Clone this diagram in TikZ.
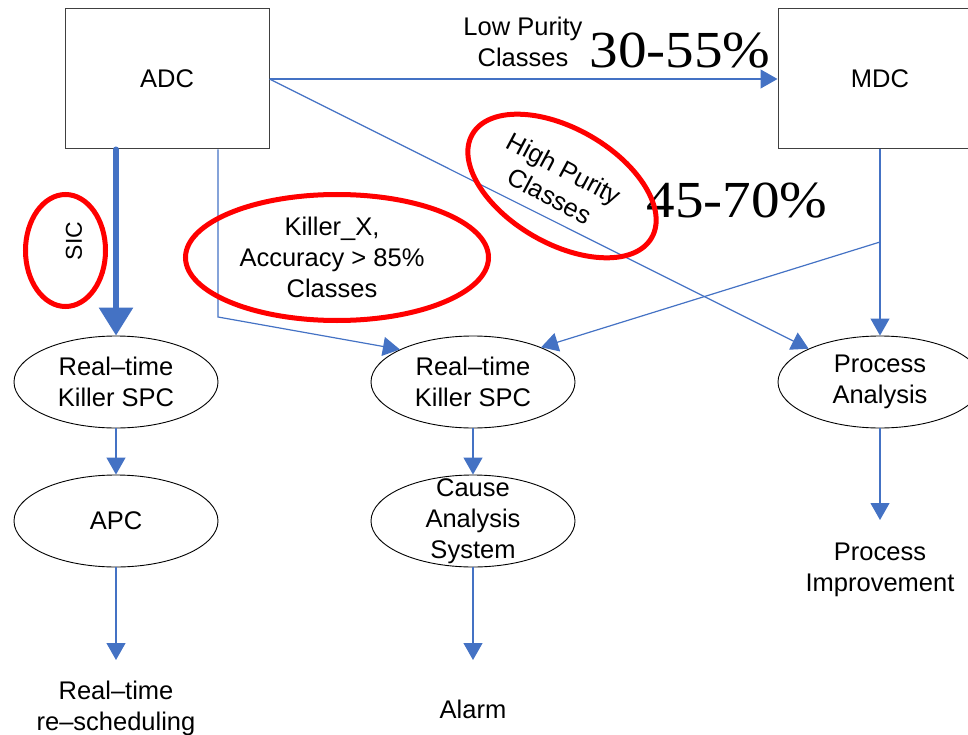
\documentclass[tikz,border=0pt]{standalone}
\usepackage{fontspec}
\setsansfont{Liberation Sans}
\newfontfamily\pctfont[FakeStretch=1.1]{Liberation Serif}
\usetikzlibrary{arrows.meta,shapes.geometric}
\definecolor{linkblue}{RGB}{68,114,196}
\definecolor{markred}{RGB}{255,0,0}
\begin{document}
\begin{tikzpicture}[x=1pt,y=-1pt,
  lbl/.style={font=\sffamily\fontsize{25.5}{31}\selectfont, align=center, inner sep=0pt},
  bignum/.style={font=\pctfont\fontsize{52}{60}\selectfont, inner sep=0pt, anchor=base},
  unitbox/.style={draw=black!75, line width=1pt, minimum width=204pt, minimum height=140pt, inner sep=0pt, lbl},
  stage/.style={ellipse, draw=black, line width=0.9pt, minimum width=204pt, minimum height=92pt, inner sep=0pt, lbl},
  ring/.style={ellipse, draw=markred, line width=5pt, inner sep=0pt},
  link/.style={draw=linkblue, line width=1.2pt, -{Triangle[width=19pt,length=17pt]}, color=linkblue},
  heavylink/.style={draw=linkblue, line width=6pt, line cap=round, -{Triangle[width=33pt,length=28pt]}, color=linkblue}
]
\clip (0,0) rectangle (968,735);

% classifiers
\node[unitbox] (adc) at (167,79) {ADC};
\node[unitbox] (mdc) at (880,79) {MDC};

% first row of stages
\node[stage] (lspc) at (116,382) {Real–time\\Killer SPC};
\node[stage] (msp)  at (473,382) {Real–time\\Killer SPC};
\node[stage] (pa)   at (880,382) {Process\\Analysis};

% second row
\node[stage] (apc) at (116,521) {APC};
\node[stage, label={[lbl]center:Cause\\Analysis\\System}] (cas) at (473,521) {};

% outcomes
\node[lbl] (resched) at (116,708) {Real–time\\re–scheduling};
\node[lbl] (alarm)   at (473,709) {Alarm};
\node[lbl] (pimp)    at (880,570) {Process\\Improvement};

% flow labels
\node[lbl] (lowp) at (523,42) {Low Purity\\Classes};
\node[bignum] (lowpct) at (680,68) {30-55\%};
\node[bignum] (highpct) at (737,218) {45-70\%};
\node[lbl, rotate=-28] (highp) at (557,182) {High Purity\\Classes};
\node[lbl] (killer) at (332,257) {Killer\_X,\\Accuracy > 85\%\\Classes};
\node[lbl, font=\sffamily\fontsize{23}{28}\selectfont, rotate=90] (sic) at (74,241) {SIC};

% helper points
\coordinate (kbend) at (218,317);
\coordinate (mbranch) at (880,242);
\coordinate (resched-in) at (116,660);
\coordinate (alarm-in) at (473,660);
\coordinate (pimp-in) at (880,520);

% connectors
\draw[link] (adc.east) -- (mdc.west);
\draw[link] (adc.east) -- (pa.155);
\draw[heavylink] (adc.south -| lspc.north) -- (lspc.north);
\draw[link] (adc.south -| kbend) -- (kbend) -- (msp.156);
\draw[link] (mdc) -- (pa);
\draw[link] (mbranch) -- (msp.27);
\draw[link] (lspc) -- (apc);
\draw[link] (apc) -- (resched-in);
\draw[link] (msp) -- (cas);
\draw[link] (cas) -- (alarm-in);
\draw[link] (pa) -- (pimp-in);

% red highlight rings
\node[ring, minimum width=80pt, minimum height=112pt] (sicring) at (65.5,250.5) {};
\node[ring, minimum width=303pt, minimum height=126pt] (killring) at (337,257.5) {};
\node[ring, minimum width=207pt, minimum height=115pt, rotate=-30] (highring) at (562,186) {};
\end{tikzpicture}
\end{document}
